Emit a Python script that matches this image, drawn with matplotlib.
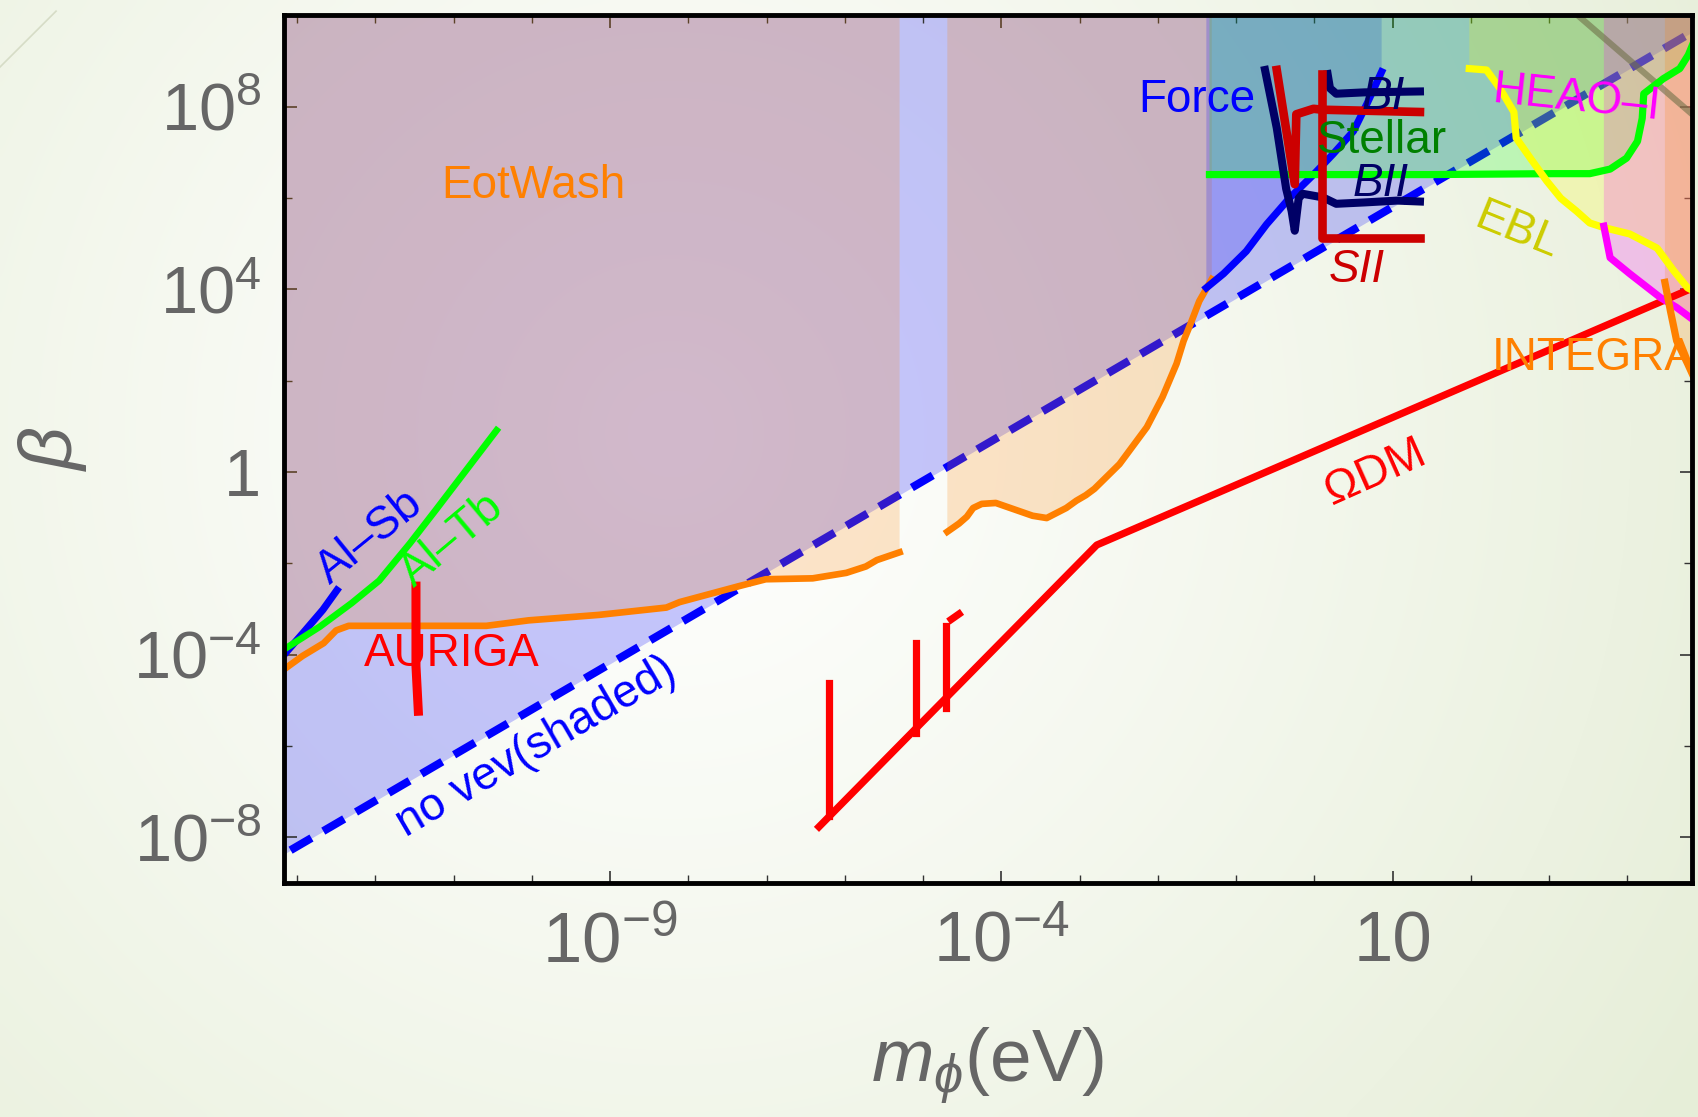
import numpy as np
import matplotlib
matplotlib.use("Agg")
import matplotlib.pyplot as plt
from matplotlib.ticker import FixedLocator, FixedFormatter, NullFormatter
from matplotlib.lines import Line2D

plt.rcParams["font.family"] = ["Liberation Sans", "DejaVu Sans"]
plt.rcParams["mathtext.fontset"] = "custom"
plt.rcParams["mathtext.rm"] = "Liberation Sans"
plt.rcParams["mathtext.it"] = "Liberation Sans:italic"

# all curves as log10(m_phi / eV), log10(beta)
novev_lm = [-13.5, 5.0]
novev_lb = [-8.7, 9.8]

eot1_lm = [-13.18, -12.93, -12.66, -12.50, -12.34, -10.58, -10.04, -9.14, -8.28, -8.11,
           -7.35, -7.01, -6.41, -5.98, -5.73, -5.59, -5.30]
eot1_lb = [-4.34, -4.03, -3.75, -3.47, -3.37, -3.37, -3.25, -3.13, -2.97, -2.85,
           -2.50, -2.35, -2.33, -2.21, -2.07, -1.93, -1.76]
eot2_lm = [-4.69, -4.54, -4.44, -4.36, -4.25, -4.07, -3.60, -3.42, -3.17, -3.04,
           -2.92, -2.81, -2.49, -2.14, -1.94, -1.76, -1.67, -1.58, -1.47, -1.31]
eot2_lb = [-1.31, -1.13, -0.98, -0.79, -0.70, -0.68, -0.96, -1.01, -0.79, -0.63,
           -0.51, -0.37, 0.17, 0.98, 1.64, 2.37, 2.87, 3.25, 3.74, 4.22]

alsb_lm = [-13.17, -12.93, -12.67, -12.49]
alsb_lb = [-4.01, -3.54, -3.02, -2.59]
altb_lm = [-13.17, -12.71, -12.30, -11.95, -11.56, -11.23, -10.45]
altb_lb = [-3.89, -3.39, -2.87, -2.38, -1.57, -0.84, 0.91]

auriga_lm = [-11.48, -11.48, -11.45]
auriga_lb = [-2.50, -4.25, -5.24]

odm_lm = [-6.33, -2.78, 4.84]
odm_lb = [-7.77, -1.60, 4.03]
odm_spikes = [([-6.20, -6.20], [-4.62, -7.53]),
              ([-5.09, -5.09], [-3.75, -5.71]),
              ([-4.71, -4.71], [-3.37, -5.17]),
              ([-4.64, -4.54], [-3.23, -3.11])]

force_lm = [-1.38, -1.16, -0.87, -0.61, -0.32, -0.01, 0.24, 0.50, 0.67, 0.86]
force_lb = [4.03, 4.34, 4.83, 5.42, 5.99, 6.51, 6.96, 7.46, 8.05, 8.76]

stellar_lm = [-1.34, 1.48, 3.05, 3.52, 3.78, 3.99, 4.13, 4.19, 4.21, 4.46, 4.67, 4.78, 4.85]
stellar_lb = [6.51, 6.51, 6.53, 6.53, 6.63, 6.87, 7.24, 7.74, 8.28, 8.61, 8.83, 9.13, 9.42]

ebl_lm = [1.98, 2.20, 2.37, 2.55, 2.58, 2.76, 2.97, 3.15, 3.35, 3.52, 3.70, 4.03, 4.38, 4.59, 4.77, 4.85]
ebl_lb = [8.83, 8.80, 8.40, 7.88, 7.31, 6.87, 6.37, 5.99, 5.71, 5.45, 5.35, 5.21, 4.90, 4.41, 4.03, 3.96]

heao_lm = [3.70, 3.78, 4.03, 4.42, 4.63, 4.85]
heao_lb = [5.38, 4.69, 4.34, 3.82, 3.60, 3.32]

integral_lm = [4.48, 4.55, 4.63, 4.77, 4.85]
integral_lb = [4.15, 3.53, 2.87, 2.37, 2.07]

bii_lm = [-0.63, -0.48, -0.36, -0.29, -0.25, -0.22, -0.20, -0.15, 0.11, 0.28, 0.64, 1.06, 1.35]
bii_lb = [8.80, 7.53, 6.20, 5.71, 5.28, 5.71, 5.99, 6.09, 6.01, 5.87, 5.90, 5.94, 5.92]
bi_lm = [0.17, 0.20, 0.28, 0.64, 1.35]
bi_lb = [8.71, 8.40, 8.28, 8.31, 8.33]
sii_v_lm = [-0.48, -0.25, -0.23, -0.01, 0.10, 1.35]
sii_v_lb = [8.80, 6.30, 7.83, 7.95, 7.93, 7.88]
sii_l_lm = [0.10, 0.10, 1.35]
sii_l_lb = [8.71, 5.12, 5.12]

grey_lm = [3.31, 4.89]
grey_lb = [10.08, 7.74]


def e(a):
    return 10.0 ** np.asarray(a, dtype=float)


def above(lm, lb, top=11.0):
    xs = np.r_[lm[0], lm, lm[-1]]
    ys = np.r_[top, lb, top]
    return e(xs), e(ys)


fig = plt.figure(figsize=(16.98, 11.17), dpi=100)

# soft slide-style background
bg = fig.add_axes([0, 0, 1, 1], zorder=-10)
gx, gy = np.meshgrid(np.linspace(0, 1, 340), np.linspace(1, 0, 224))
d = np.hypot((gx - 0.395) * 1698, (gy - 0.612) * 1117) / 1200.0
t = np.clip(d, 0, 1) ** 1.1
edge = np.array([0.905, 0.935, 0.85])
img = (1 - t)[..., None] * np.ones(3) + t[..., None] * edge
bg.imshow(img, extent=[0, 1, 0, 1], aspect="auto", interpolation="bicubic")
bg.axis("off")
fig.add_artist(Line2D([0, 0.033], [0.94, 0.99], transform=fig.transFigure,
                      color="#d6dcc6", lw=1.2))

ax = fig.add_axes([262 / 1568, 1 - 815 / 1031, 1300 / 1568, 801 / 1031])
ax.set_facecolor("none")
ax.set_xscale("log")
ax.set_yscale("log")
ax.set_xlim(10 ** -13.17, 10 ** 4.82)
ax.set_ylim(1e-9, 1e10)

# shaded regions
ax.fill_between(e(novev_lm), e(novev_lb), 1e11, color="#0000ff", alpha=0.22, lw=0, zorder=1)
ax.plot(e(novev_lm), e(novev_lb), color="#0000ff", lw=5.8, dashes=(3.0, 1.7), zorder=2)

for lm, lb, c in [(eot1_lm, eot1_lb, "#ff8000"), (eot2_lm, eot2_lb, "#ff8000"),
                  (force_lm, force_lb, "#0000ff"), (stellar_lm, stellar_lb, "#00ff00"),
                  (ebl_lm, ebl_lb, "#ffff00"), (heao_lm, heao_lb, "#ff00ff"),
                  (integral_lm, integral_lb, "#ff8000")]:
    xs, ys = above(lm, lb)
    ax.fill(xs, ys, color=c, alpha=0.2, lw=0, zorder=3)

# constraint curves
ax.plot(e(grey_lm), e(grey_lb), color="#707048", alpha=0.6, lw=4.5, zorder=3.5)
ax.plot(e(eot1_lm), e(eot1_lb), color="#ff8000", lw=4.8, zorder=4)
ax.plot(e(eot2_lm), e(eot2_lb), color="#ff8000", lw=4.8, zorder=4)
ax.plot(e(alsb_lm), e(alsb_lb), color="#0000ff", lw=5.2, zorder=4)
ax.plot(e(altb_lm), e(altb_lb), color="#00ff00", lw=4.8, zorder=4)
ax.plot(e(auriga_lm), e(auriga_lb), color="#ff0000", lw=6.5, zorder=4)
ax.plot(e(odm_lm), e(odm_lb), color="#ff0000", lw=5.2, zorder=4)
for sx, sy in odm_spikes:
    ax.plot(e(sx), e(sy), color="#ff0000", lw=5.2, zorder=4)
ax.plot(e(force_lm), e(force_lb), color="#0000ff", lw=5.2, zorder=4)
ax.plot(e(stellar_lm), e(stellar_lb), color="#00ff00", lw=5.2, zorder=4)
ax.plot(e(ebl_lm), e(ebl_lb), color="#ffff00", lw=5.2, zorder=4)
ax.plot(e(heao_lm), e(heao_lb), color="#ff00ff", lw=5.2, zorder=4)
ax.plot(e(integral_lm), e(integral_lb), color="#ff8000", lw=5.2, zorder=4)
ax.plot(e(bii_lm), e(bii_lb), color="#000066", lw=5.8, zorder=4)
ax.plot(e(bi_lm), e(bi_lb), color="#000066", lw=5.8, zorder=4)
ax.plot(e(sii_v_lm), e(sii_v_lb), color="#cc0000", lw=6.2, zorder=4.1)
ax.plot(e(sii_l_lm), e(sii_l_lb), color="#cc0000", lw=6.2, zorder=4.1)

# labels
fs = 33
labels = [
    ("EotWash", -9.98, 6.27, "#ff8000", 0, "center", "normal"),
    ("Force", -0.75, 8.14, "#0000ff", 0, "right", "normal"),
    ("Stellar", 0.03, 7.24, "#008000", 0, "left", "normal"),
    ("BI", 0.875, 8.21, "#000066", 0, "center", "italic"),
    ("BII", 0.85, 6.30, "#000066", 0, "center", "italic"),
    ("SII", 0.54, 4.43, "#cc0000", 0, "center", "italic"),
    ("HEAO\u2013I", 3.35, 8.17, "#ff00ff", -6, "center", "normal"),
    ("EBL", 2.59, 5.28, "#cccc00", -22, "center", "normal"),
    ("INTEGRAL", 2.27, 2.49, "#ff8000", 0, "left", "normal"),
    ("\u03a9DM", 0.78, -0.01, "#ff0000", 24, "center", "normal"),
    ("Al\u2013Sb", -12.07, -1.43, "#0000ff", 39, "center", "normal"),
    ("Al\u2013Tb", -11.02, -1.50, "#00ff00", 40, "center", "normal"),
    ("AURIGA", -11.02, -3.99, "#ff0000", 0, "center", "normal"),
    ("no vev(shaded)", -9.94, -6.02, "#0000ff", 30.3, "center", "normal"),
]
for s, lx, ly, c, rot, ha, st in labels:
    ax.text(10 ** lx, 10 ** ly, s, color=c, fontsize=fs, rotation=rot, ha=ha, va="center",
            rotation_mode="anchor", style=st, zorder=5, clip_on=True)

# ticks
ax.xaxis.set_major_locator(FixedLocator([1e-9, 1e-4, 1e1]))
ax.xaxis.set_major_formatter(FixedFormatter([r"$10^{-9}$", r"$10^{-4}$", "10"]))
ax.xaxis.set_minor_locator(FixedLocator([10.0 ** k for k in range(-13, 5) if k not in (-9, -4, 1)]))
ax.xaxis.set_minor_formatter(NullFormatter())
ax.yaxis.set_major_locator(FixedLocator([1e-8, 1e-4, 1, 1e4, 1e8]))
ax.yaxis.set_major_formatter(FixedFormatter([r"$10^{-8}$", r"$10^{-4}$", "1", r"$10^{4}$", r"$10^{8}$"]))
ax.yaxis.set_minor_locator(FixedLocator([1e-6, 1e-2, 1e2, 1e6]))
ax.yaxis.set_minor_formatter(NullFormatter())
ax.tick_params(which="both", direction="in", top=True, right=True, color="#333333",
               labelcolor="#666666")
ax.tick_params(which="major", length=9, width=1.2)
ax.tick_params(which="minor", length=6, width=1.0)
ax.tick_params(axis="x", pad=20, labelsize=51)
ax.tick_params(axis="y", pad=16, labelsize=48)
for sp in ax.spines.values():
    sp.set_linewidth(3.5)
    sp.set_color("black")
    sp.set_zorder(6)

ax.set_ylabel(r"$\beta$", fontsize=54, color="#666666", rotation=90)
ax.yaxis.set_label_coords(-0.138, 0.5)
ax.set_xlabel(r"$m_{\phi}$(eV)", fontsize=54, color="#666666")
ax.xaxis.set_label_coords(0.5, -0.165)

fig.savefig("out.png", dpi=100)
